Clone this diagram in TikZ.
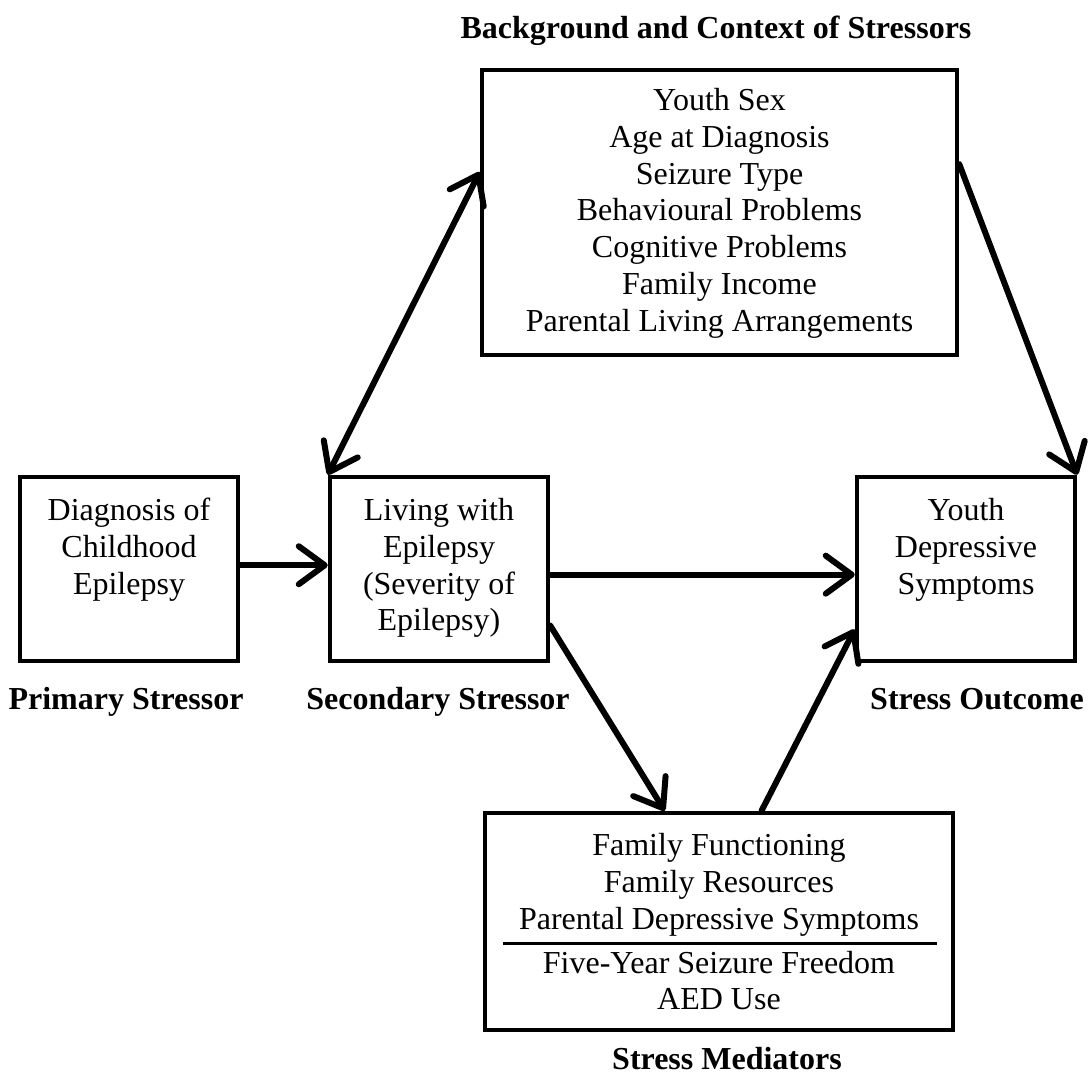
\documentclass[tikz,border=0pt]{standalone}
\usepackage{fontspec}
\setmainfont{Liberation Serif}
\usetikzlibrary{arrows.meta,calc}
\begin{document}
\begin{tikzpicture}[x=1pt,y=-1pt,
  box/.style={draw,line width=4.5pt,inner sep=0pt,minimum width=218pt,minimum height=184pt},
  txt/.style={font=\fontsize{32}{36.8}\selectfont,align=center,inner sep=0pt,anchor=north},
  lbl/.style={font=\fontsize{32}{36.8}\selectfont\bfseries,inner sep=0pt,anchor=base},
  arr/.style={line width=6pt,line cap=round,-{Straight Barb[round,length=26pt,width=38pt]}},
  darr/.style={line width=6pt,line cap=round,{Straight Barb[round,length=26pt,width=38pt]}-{Straight Barb[round,length=26pt,width=38pt]}}
]
\useasboundingbox (0,0) rectangle (1090,1074);

% boxes
\node[box,minimum width=475pt,minimum height=285pt] (ctx) at (719.5,212.5) {};
\node[box] (prim) at (129,569) {};
\node[box] (sec) at (439,569) {};
\node[box] (out) at (966,569) {};
\node[box,minimum width=468pt,minimum height=217pt] (med) at (719,921.5) {};

% box texts
\node[txt] (ctxtxt) at (719.5,88.1) {Youth Sex\\Age at Diagnosis\\Seizure Type\\Behavioural Problems\\Cognitive Problems\\Family Income\\Parental Living Arrangements};
\node[txt] (primtxt) at (129,498.1) {Diagnosis of\\Childhood\\Epilepsy};
\node[txt] (sectxt) at (439,498.1) {Living with\\Epilepsy\\(Severity of\\Epilepsy)};
\node[txt] (outtxt) at (966,498.1) {Youth\\Depressive\\Symptoms};
\node[txt] (medtxt) at (719,833.1) {Family Functioning\\Family Resources\\Parental Depressive Symptoms\\[7.2pt]Five-Year Seizure Freedom\\AED Use};
\draw[line width=3pt] (503,943) -- (937,943);

% labels
\node[lbl] (lctx) at (716,38) {Background and Context of Stressors};
\node[lbl] (lprim) at (126,709) {Primary Stressor};
\node[lbl] (lsec) at (438,709) {Secondary Stressor};
\node[lbl] (lout) at (977,709) {Stress Outcome};
\node[lbl] (lmed) at (727,1069) {Stress Mediators};

% connectors
\draw[arr] ($(prim.north east)!0.48!(prim.south east)$) -- ($(sec.north west)!0.48!(sec.south west)$);
\draw[arr] ($(sec.north east)!0.53!(sec.south east)$) -- ($(out.north west)!0.53!(out.south west)$);
\draw[darr] ($(ctx.north west)!0.36!(ctx.south west)$) -- (sec.north west);
\draw[arr] ($(ctx.north east)!0.333!(ctx.south east)$) -- (out.north east);
\draw[arr] ($(sec.north east)!0.8!(sec.south east)$) -- ($(med.north west)!0.385!(med.north east)$);
\draw[arr] ($(med.north west)!0.59!(med.north east)$) -- ($(out.north west)!0.82!(out.south west)$);
\end{tikzpicture}
\end{document}
